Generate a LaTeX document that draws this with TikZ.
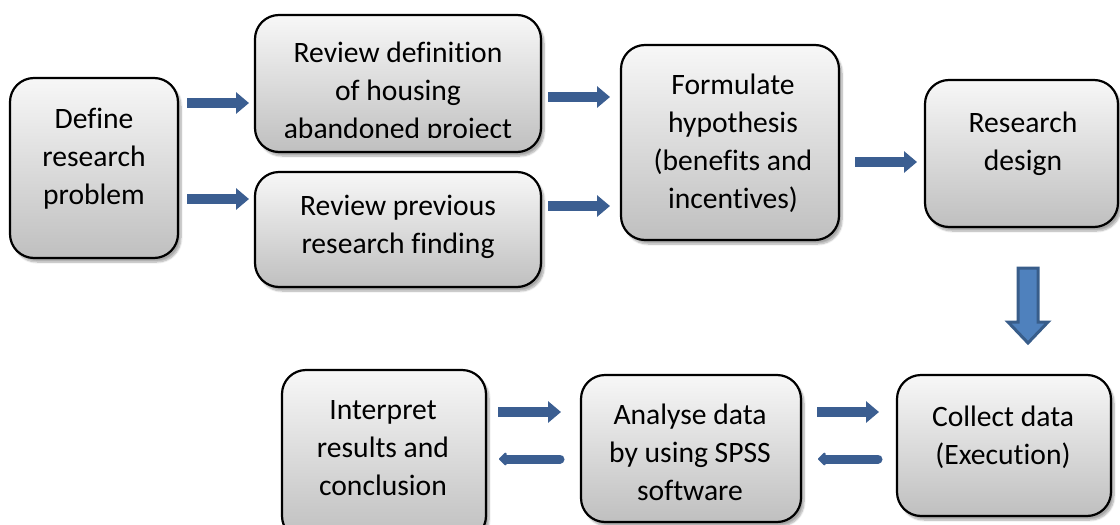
\documentclass[tikz,border=0pt]{standalone}
\usepackage{fontspec}
\setmainfont{Carlito}[Ligatures={NoCommon}]
\usetikzlibrary{arrows.meta,shadows.blur}

\definecolor{flowblue}{HTML}{3B5E91}
\definecolor{downfill}{HTML}{4F81BD}
\definecolor{downedge}{HTML}{385D8A}

\tikzset{
  stepbox/.style={draw=black, line width=2.2pt, rounded corners=24pt,
    top color=black!3, bottom color=black!25,
    blur shadow={shadow xshift=3pt, shadow yshift=-4pt, shadow opacity=35, shadow blur steps=8},
    inner sep=0pt},
  steptext/.style={align=center, font=\fontsize{29.6}{38}\selectfont, inner sep=0pt},
  flowarrow/.style={draw=flowblue, line width=10pt,
    -{Triangle[width=21pt,length=13pt]}},
  backarrow/.style={draw=flowblue, line width=9pt, line cap=round,
    -{Triangle[width=15pt,length=8pt,round]}},
}

\begin{document}
\begin{tikzpicture}[x=1pt,y=-1pt]
\useasboundingbox (0,0) rectangle (1120,525);

% boxes: centre = ((l+r)/2,(t+b)/2), size = (r-l) x (b-t)
\node[stepbox, minimum width=168pt, minimum height=180pt] (b1) at (94,168) {};
\node[stepbox, minimum width=286pt, minimum height=137pt] (b2) at (398,83.5) {};
\node[stepbox, minimum width=286pt, minimum height=115pt] (b3) at (398,229.5) {};
\node[stepbox, minimum width=218pt, minimum height=195pt] (b4) at (730,142.5) {};
\node[stepbox, minimum width=193pt, minimum height=147pt] (b5) at (1021.5,153.5) {};
\node[stepbox, minimum width=204pt, minimum height=170pt] (b6) at (384,455) {};
\node[stepbox, minimum width=220pt, minimum height=147pt] (b7) at (691,448.5) {};
\node[stepbox, minimum width=214pt, minimum height=141pt] (b8) at (1004,445.5) {};

% texts
\node[steptext] (t1) at (94,159) {Define\\research\\problem};
\begin{scope}
  \clip (255,15) rectangle (541,137);
  \node[steptext] (t2) at (398,92.5) {Review definition\\of housing\\abandoned project};
\end{scope}
\node[steptext] (t3) at (398,227) {Review previous\\research finding};
\node[steptext] (t4) at (733,143) {Formulate\\hypothesis\\(benefits and\\incentives)};
\node[steptext] (t5) at (1023,144) {Research\\design};
\node[steptext] (t6) at (383,448) {Interpret\\results and\\conclusion};
\node[steptext] (t7) at (690,452) {Analyse data\\by using SPSS\\software};
\node[steptext] (t8) at (1003,437) {Collect data\\(Execution)};

% arrow end points
\coordinate (a1s) at (187,103); \coordinate (a1e) at (249,103);
\coordinate (a2s) at (187,199); \coordinate (a2e) at (249,199);
\coordinate (a3s) at (548,97);  \coordinate (a3e) at (610,97);
\coordinate (a4s) at (548,206); \coordinate (a4e) at (610,206);
\coordinate (a5s) at (855,162); \coordinate (a5e) at (917,162);
\coordinate (r1s) at (498,412); \coordinate (r1e) at (561,412);
\coordinate (l1s) at (560,459); \coordinate (l1e) at (499,459);
\coordinate (r2s) at (817,412); \coordinate (r2e) at (879,412);
\coordinate (l2s) at (878,459); \coordinate (l2e) at (818,459);
\coordinate (d0) at (1028,268);

\draw[flowarrow] (a1s) -- (a1e);
\draw[flowarrow] (a2s) -- (a2e);
\draw[flowarrow] (a3s) -- (a3e);
\draw[flowarrow] (a4s) -- (a4e);
\draw[flowarrow] (a5s) -- (a5e);
\draw[flowarrow] (r1s) -- (r1e);
\draw[flowarrow] (r2s) -- (r2e);
\draw[backarrow] (l1s) -- (l1e);
\draw[backarrow] (l2s) -- (l2e);

% block arrow from research design down to data collection
\draw[fill=downfill, draw=downedge, line width=3pt, line join=miter]
  (d0) ++(-10,0) -- ++(20,0) -- ++(0,54) -- ++(10,0) -- ++(-20,21)
  -- ++(-20,-21) -- ++(10,0) -- cycle;
\end{tikzpicture}
\end{document}
